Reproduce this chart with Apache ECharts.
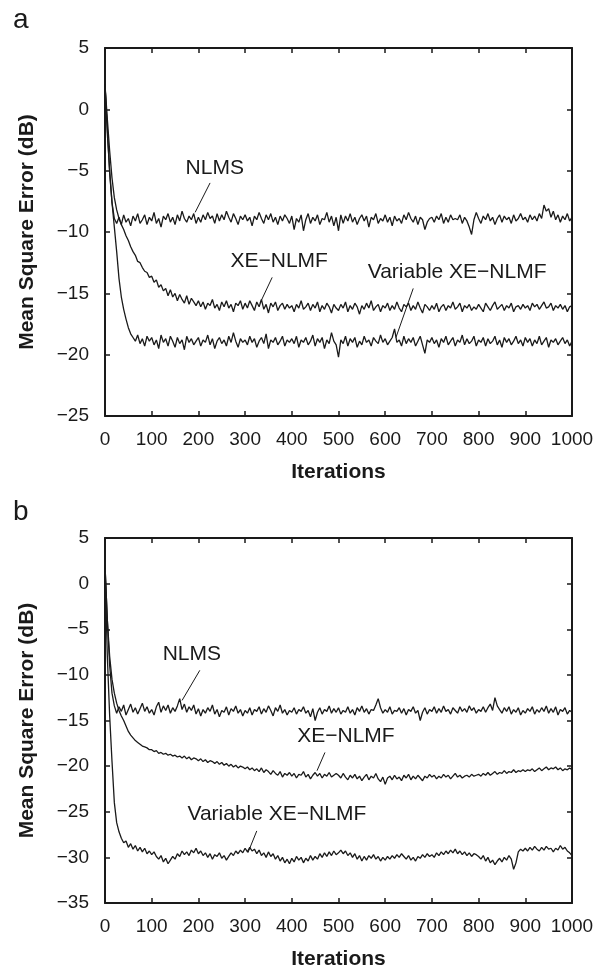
<!DOCTYPE html>
<html>
<head>
<meta charset="utf-8">
<script src="https://cdn.jsdelivr.net/npm/echarts@6/dist/echarts.min.js"></script>
<style>
  html, body { margin: 0; padding: 0; background: #fff; }
  #chart { width: 598px; height: 971px; }
</style>
</head>
<body>
<div id="chart"></div>
<script>
// iteration axis, one point every 5 iterations (0..1000)
const iterations = [];
for (let i = 0; i <= 1000; i += 5) iterations.push(i);

const xTicks = [0, 100, 200, 300, 400, 500, 600, 700, 800, 900, 1000];
const yTicksA = [-25, -20, -15, -10, -5, 0, 5];
const yTicksB = [-35, -30, -25, -20, -15, -10, -5, 0, 5];

// panel a
const nlmsA = [
  2.0, -1.5, -5.2, -7.6, -8.9, -9.3, -8.8, -9.4, -8.6, -9.2, -8.9, -9.5, -8.7, -9.1, -8.5, -9.3, -9.0, -8.6, -9.4, -8.8,
  -9.1, -8.4, -9.3, -8.9, -9.6, -8.7, -9.0, -8.5, -9.2, -8.8, -9.4, -8.6, -9.1, -8.3, -8.9, -9.2, -8.7, -9.0, -8.5, -9.3,
  -8.8, -9.2, -8.6, -9.0, -8.4, -8.9, -8.7, -9.3, -8.5, -9.1, -8.6, -9.0, -8.3, -8.8, -9.2, -8.5, -8.9, -9.4, -8.7, -9.0,
  -8.6, -9.1, -8.8, -9.5, -8.7, -9.0, -8.4, -8.9, -9.3, -8.6, -9.0, -8.5, -9.2, -8.8, -9.4, -8.7, -9.1, -8.6, -8.9, -9.3,
  -8.7, -9.8, -8.9, -9.2, -8.6, -9.9, -9.0, -8.5, -9.3, -8.8, -9.1, -8.6, -9.4, -8.9, -9.0, -8.4, -9.2, -8.7, -9.5, -8.8,
  -9.9, -8.6, -9.3, -8.7, -9.1, -8.5, -9.2, -8.8, -9.4, -8.9, -8.6, -9.1, -8.7, -9.6, -8.8, -9.0, -8.5, -9.3, -8.9, -9.1,
  -8.6, -9.2, -8.8, -9.5, -8.7, -9.1, -8.9, -9.3, -8.6, -9.0, -8.4, -8.9, -9.2, -8.7, -9.4, -8.8, -9.0, -9.8, -9.2, -8.9,
  -8.8, -9.2, -8.7, -9.0, -8.5, -9.3, -8.8, -9.2, -8.6, -9.0, -8.9, -9.0, -8.6, -9.3, -8.8, -9.1, -9.6, -10.2, -9.0, -8.4,
  -8.9, -9.3, -8.7, -9.0, -8.5, -9.1, -8.8, -9.4, -8.9, -8.6, -9.2, -8.7, -9.0, -8.8, -9.3, -8.6, -9.1, -8.9, -8.5, -9.0,
  -8.8, -9.2, -8.6, -9.0, -8.7, -9.1, -8.5, -8.9, -7.8, -8.3, -8.1, -8.8, -8.3, -9.0, -8.6, -9.2, -8.7, -9.0, -8.5, -9.1, -8.8
];
const xeA = [
  2.0, -0.8, -3.4, -5.6, -7.2, -8.2, -8.9, -9.4, -9.8, -10.3, -10.7, -11.2, -11.6, -11.9, -12.4, -12.5, -12.9, -13.2, -13.3, -13.7,
  -13.6, -14.1, -13.9, -14.5, -14.3, -14.8, -14.6, -15.2, -14.7, -15.3, -15.0, -15.6, -15.1, -15.5, -15.8, -15.2, -15.9, -15.4, -15.7, -16.0,
  -15.6, -16.1, -15.7, -16.3, -15.8, -16.0, -15.5, -16.2, -15.9, -16.4, -15.7, -16.1, -15.6, -16.2, -15.9, -16.5, -15.8, -16.0, -15.6, -16.3,
  -15.8, -16.2, -15.6, -16.0, -16.4, -15.7, -16.1, -15.5, -16.3, -15.9, -16.6, -15.8, -16.1, -15.7, -16.4, -16.0, -15.8, -16.3, -15.9, -16.2,
  -16.0, -16.5, -15.9, -16.2, -15.6, -16.3, -16.1, -15.8, -16.4, -15.9, -16.2, -15.7, -16.5, -16.0, -16.3, -15.8, -16.1, -16.6, -15.9, -16.2,
  -16.4, -15.9, -16.2, -15.7, -16.5, -16.0, -16.3, -15.8, -16.1, -16.7, -16.0, -16.3, -15.8, -16.2, -15.6, -16.4, -16.1, -15.9, -16.5, -16.0,
  -16.2, -15.8, -16.4, -16.0, -16.3, -15.7, -16.2, -16.5, -15.9, -16.1, -15.8, -16.4, -16.0, -16.3, -15.7, -16.2, -16.6, -15.9, -16.1, -16.4,
  -16.0, -16.3, -15.8, -16.5, -16.1, -15.9, -16.4, -16.0, -16.2, -15.7, -16.3, -16.1, -15.8, -16.5, -16.0, -16.2, -15.9, -16.4, -16.1, -16.3,
  -15.9, -16.2, -16.5, -15.8, -16.1, -16.4, -16.0, -15.7, -16.3, -16.1, -15.9, -16.4, -16.0, -16.2, -15.8, -16.5, -16.1, -16.0, -16.3, -15.9,
  -16.2, -16.0, -16.4, -15.8, -16.1, -15.9, -16.3, -16.0, -15.7, -16.2, -16.1, -15.8, -16.4, -16.0, -16.2, -15.9, -16.3, -16.0, -16.5, -16.1, -16.0
];
const varA = [
  2.0, -2.0, -5.0, -7.6, -9.6, -11.6, -13.8, -15.3, -16.3, -17.1, -17.8, -18.3, -18.6, -18.9, -18.4, -19.1, -18.7, -19.3, -18.5, -18.9,
  -18.6, -19.2, -18.8, -19.5, -18.4, -19.0, -18.7, -19.3, -18.5, -18.9, -19.4, -18.6, -19.1, -18.8, -19.6, -18.5, -19.0, -18.7, -19.2, -18.9,
  -18.6, -19.3, -18.8, -19.0, -18.4, -19.2, -18.7, -19.5, -18.9, -18.6, -19.1, -18.8, -19.3, -18.5, -19.0, -18.2, -18.9, -19.4, -18.7, -19.0,
  -18.8, -19.2, -18.5, -19.0, -18.7, -19.4, -18.9, -18.6, -19.1, -18.3, -19.5, -18.8, -19.0, -18.6, -19.2, -18.9, -18.5, -19.3, -18.8, -19.0,
  -18.7, -19.1, -18.5, -19.4, -18.8, -19.0, -18.6, -19.2, -18.9, -18.4, -19.3, -18.7, -19.0, -18.6, -19.5, -18.8, -19.1, -18.2, -18.9, -19.2,
  -20.2, -18.8, -19.1, -18.5, -19.3, -18.7, -19.0, -18.6, -19.4, -18.9, -19.2, -18.5, -19.0, -18.8, -19.3, -18.6, -18.9, -19.1, -18.4, -19.0,
  -18.7, -19.2, -18.9, -18.6, -17.9, -19.0, -18.8, -19.3, -18.5, -19.1, -18.7, -19.0, -18.6, -19.3, -18.9, -18.5, -19.2, -19.9, -18.8, -19.0,
  -18.6, -19.1, -18.8, -19.4, -18.7, -19.0, -18.5, -19.2, -18.9, -18.6, -19.3, -18.8, -19.0, -18.4, -19.2, -18.7, -19.1, -18.9, -18.5, -19.3,
  -18.8, -19.0, -18.6, -19.3, -18.7, -19.1, -18.9, -18.5, -19.2, -18.8, -19.4, -18.6, -19.0, -18.7, -19.2, -18.9, -18.5, -19.1, -18.8, -19.3,
  -18.6, -19.0, -18.7, -19.3, -18.8, -19.1, -18.5, -19.2, -18.9, -18.6, -19.4, -18.8, -19.0, -18.7, -19.2, -18.9, -18.6, -19.1, -18.8, -19.3, -18.9
];

// panel b
const nlmsB = [
  2.0, -4.0, -9.0, -12.0, -13.4, -14.2, -13.5, -14.0, -13.3, -14.4, -13.8, -13.2, -14.1, -13.6, -14.3, -13.7, -13.1, -14.0, -13.5, -14.2,
  -13.8, -14.4, -13.5, -13.0, -14.1, -13.4, -13.9, -13.3, -14.2, -13.6, -14.0, -13.4, -12.6, -13.8, -13.2, -14.1, -13.5, -13.9, -13.3, -14.3,
  -13.7, -14.5, -13.8, -14.2, -13.6, -14.0, -13.3, -14.3, -13.8, -14.6, -13.9, -14.1, -13.5, -14.4, -13.7, -14.0, -13.4, -14.2, -13.8, -14.5,
  -13.9, -14.2, -13.6, -14.4, -13.8, -14.0, -13.5, -14.3, -13.7, -14.1, -13.4, -13.9, -14.5, -13.6, -14.0, -13.3, -14.2, -13.8, -14.4, -13.9,
  -14.1, -13.6, -14.3, -13.8, -14.0, -13.5, -14.2, -13.9, -14.6, -13.7, -15.0, -14.1, -13.6, -14.3, -13.8, -14.0, -13.4, -14.2, -13.7, -14.1,
  -13.6, -14.3, -13.9, -14.1, -13.5, -14.2, -13.8, -14.4, -13.6, -14.0, -13.4, -14.1, -13.7, -14.3, -13.8, -13.9, -13.3, -12.6, -13.6, -14.2,
  -13.8, -14.1, -13.5, -14.3, -13.9, -14.0, -13.6, -14.2, -13.7, -14.4, -13.8, -14.0, -13.5, -14.2, -13.9, -15.0, -14.1, -13.6, -14.3, -13.8,
  -14.0, -13.5, -14.2, -13.7, -14.1, -13.4, -14.0, -13.8, -14.3, -13.6, -13.9, -14.2, -13.5, -14.0, -13.7, -14.1, -13.4, -13.9, -13.6, -14.2,
  -13.8, -14.0, -13.5, -14.1, -13.6, -13.2, -13.9, -12.5, -13.4, -13.8, -14.2, -13.6, -14.0, -13.5, -14.3, -13.8, -14.1, -13.6, -14.4, -13.9,
  -14.2, -13.7, -14.0, -13.5, -14.3, -13.8, -14.1, -13.6, -14.0, -13.4, -14.2, -13.7, -14.1, -13.5, -14.4, -13.8, -14.0, -13.6, -14.3, -13.9, -14.1
];
const xeB = [
  2.0, -4.0, -8.0, -10.5, -12.0, -13.1, -13.9, -14.5, -15.0, -15.6, -16.2, -16.6, -16.9, -17.2, -17.4, -17.6, -17.8, -17.9, -18.0, -18.2,
  -18.2, -18.4, -18.3, -18.6, -18.5, -18.7, -18.6, -18.8, -18.7, -18.9, -18.8, -19.0, -18.9, -19.1, -18.9, -19.2, -19.0, -19.3, -19.1, -19.2,
  -19.4, -19.2, -19.5, -19.3, -19.6, -19.4, -19.5, -19.7, -19.5, -19.8, -19.6, -19.9, -19.7, -20.0, -19.8, -20.1, -19.9, -20.2, -20.0, -20.1,
  -20.3, -20.1, -20.4, -20.2, -20.5, -20.3, -20.6, -20.2, -20.7, -20.4, -20.6, -20.9, -20.5, -20.8, -21.0, -20.6, -21.2, -20.8, -21.0, -20.7,
  -21.1, -20.8, -21.3, -20.9, -21.0, -20.6, -21.2, -20.9, -21.4, -21.0, -20.7, -21.1, -20.8, -21.3, -20.9, -21.1, -20.7, -21.2, -21.0, -20.8,
  -21.0, -21.3, -20.8, -21.2, -21.5, -21.0, -21.3, -20.9, -21.4, -21.1, -21.6, -21.2, -20.9, -21.5, -21.1, -21.3, -20.8, -21.4, -21.7, -21.2,
  -22.0, -21.3, -21.1, -21.5, -21.0, -21.4, -21.2, -21.6, -21.0, -21.3, -20.9, -21.5, -21.1, -21.4, -21.0, -21.3, -21.6, -21.1, -21.3, -20.9,
  -21.2, -21.0, -21.4, -21.1, -21.3, -20.9, -21.2, -21.0, -21.4, -21.1, -20.8, -21.2, -21.0, -21.3, -21.1, -21.0, -21.2, -20.9, -21.1, -21.0,
  -20.9, -21.1, -20.8, -21.0, -20.7, -21.0, -20.8, -20.6, -20.9, -20.7, -20.8, -20.5, -20.8, -20.6, -20.7, -20.4, -20.7, -20.5, -20.6, -20.4,
  -20.6, -20.4, -20.5, -20.3, -20.6, -20.4, -20.2, -20.5, -20.3, -20.1, -20.4, -20.2, -20.3, -20.1, -20.4, -20.2, -20.5, -20.3, -20.4, -20.2, -20.4
];
const varB = [
  2.0, -8.0, -14.5, -19.5, -24.0, -26.2, -27.2, -27.9, -28.4, -28.2, -28.9, -28.5, -29.1, -28.7, -29.3, -28.9, -29.4, -29.0, -29.6, -29.3,
  -29.7, -29.4, -29.9, -30.2, -29.8, -30.5, -30.1, -30.7, -30.3, -29.9, -30.2, -29.6, -29.9, -29.3, -29.7, -29.4, -29.8, -29.2, -29.5, -29.0,
  -29.6, -29.3, -29.8, -29.5, -30.0, -29.6, -30.2, -29.7, -29.9, -29.5, -30.1, -29.8, -30.3, -29.9, -29.5, -29.8, -29.3, -29.6, -29.2, -29.5,
  -29.0, -29.4, -28.9, -29.3, -29.1, -29.6, -29.2, -29.8, -29.5, -30.0, -29.4, -29.9, -29.6, -30.2, -29.8, -30.4, -30.0, -30.6, -30.2, -30.7,
  -30.1, -30.5, -29.9, -30.3, -30.0, -30.6, -30.1, -30.4, -29.8, -30.3, -29.9, -30.2, -29.6, -30.0, -29.5, -29.9, -29.4, -29.8, -29.3, -29.7,
  -29.5, -29.2, -29.6, -29.3, -29.8, -29.5, -30.0, -29.6, -30.2, -29.8, -30.4, -29.9, -30.3, -29.8, -30.1, -29.7, -30.2, -29.9, -30.4, -30.0,
  -30.3, -29.9, -30.2, -29.8, -30.1, -29.7, -30.0, -29.6, -29.9, -30.2, -29.8, -30.3, -30.0, -30.4, -29.9, -30.1, -29.7, -30.0, -29.6, -29.9,
  -29.7, -30.0, -29.5, -29.8, -29.4, -29.7, -29.3, -29.6, -29.2, -29.5, -29.1, -29.6, -29.3, -29.7, -29.4, -29.8, -29.5, -29.9, -29.6, -29.7,
  -29.9, -30.2, -29.8, -30.4, -30.0, -30.6, -30.3, -30.8, -30.4, -30.1, -30.5, -30.0, -30.3, -29.8, -30.2, -31.3, -30.6, -29.4, -29.1, -29.3,
  -29.0, -29.3, -28.9, -29.2, -28.8, -29.1, -29.3, -28.9, -29.2, -28.8, -29.1, -29.0, -29.4, -29.0, -29.2, -28.7, -29.1, -28.9, -29.3, -29.5, -29.8
];

// annotation text + pointer, in data coords: [text, tx, ty, x1, y1, x2, y2]
const notesA = [
  ['NLMS', 235, -4.8, 225, -6.0, 193, -8.4],
  ['XE\u2212NLMF', 373, -12.4, 358, -13.7, 332, -15.8],
  ['Variable XE\u2212NLMF', 754, -13.3, 660, -14.6, 623, -18.6]
];
const notesB = [
  ['NLMS', 186, -7.7, 203, -9.5, 165, -12.8],
  ['XE\u2212NLMF', 516, -16.7, 471, -18.5, 454, -20.5],
  ['Variable XE\u2212NLMF', 368, -25.3, 325, -27.1, 306, -29.5]
];

const FONT = '"Liberation Sans", Arial, sans-serif';
const INK = '#1a1a1a';

const chart = echarts.init(document.getElementById('chart'));

function axisBase(extra) {
  return Object.assign({
    type: 'value',
    axisLine: { show: true, onZero: false, lineStyle: { color: INK, width: 2 } },
    axisTick: { show: true, inside: true, length: 5, lineStyle: { color: INK, width: 1.5 } },
    splitLine: { show: false },
    axisLabel: { show: false }
  }, extra);
}
const minus = v => String(v).replace('-', '\u2212');
const tickLabel = { show: true, fontFamily: FONT, fontSize: 19, color: INK };
const titleStyle = { fontFamily: FONT, fontSize: 21, fontWeight: 'bold', color: INK };

function xPair(gi) {
  return [
    axisBase({ gridIndex: gi, position: 'bottom', min: xTicks[0], max: xTicks[xTicks.length - 1], interval: 100,
      axisLabel: Object.assign({ margin: 14, formatter: v => String(v) }, tickLabel),
      name: 'Iterations', nameLocation: 'middle', nameGap: 46, nameTextStyle: titleStyle }),
    axisBase({ gridIndex: gi, position: 'top', min: xTicks[0], max: xTicks[xTicks.length - 1], interval: 100 })
  ];
}
function yPair(gi, ticks) {
  const lo = ticks[0], hi = ticks[ticks.length - 1];
  return [
    axisBase({ gridIndex: gi, position: 'left', min: lo, max: hi, interval: 5,
      axisLabel: Object.assign({ margin: 16, formatter: minus }, tickLabel),
      name: 'Mean Square Error (dB)', nameLocation: 'middle', nameGap: 67, nameTextStyle: titleStyle }),
    axisBase({ gridIndex: gi, position: 'right', min: lo, max: hi, interval: 5 })
  ];
}
function line(arr, gi) {
  return {
    type: 'line', xAxisIndex: gi * 2, yAxisIndex: gi * 2,
    data: iterations.map((x, i) => [x, arr[i]]),
    showSymbol: false, silent: true,
    lineStyle: { color: INK, width: 1.3 }
  };
}

chart.setOption({
  animation: false,
  backgroundColor: '#fff',
  grid: [
    { left: 105, right: 26, top: 48, height: 368 },
    { left: 105, right: 26, top: 538, height: 368 }
  ],
  xAxis: [...xPair(0), ...xPair(1)],
  yAxis: [...yPair(0, yTicksA), ...yPair(1, yTicksB)],
  series: [
    line(nlmsA, 0), line(xeA, 0), line(varA, 0),
    line(nlmsB, 1), line(xeB, 1), line(varB, 1)
  ]
});

// annotations placed through the axes
function notes(list, gi) {
  const out = [];
  const finder = { xAxisIndex: gi * 2, yAxisIndex: gi * 2 };
  list.forEach(n => {
    const t = chart.convertToPixel(finder, [n[1], n[2]]);
    const p1 = chart.convertToPixel(finder, [n[3], n[4]]);
    const p2 = chart.convertToPixel(finder, [n[5], n[6]]);
    out.push({ type: 'text', x: t[0], y: t[1], silent: true,
      style: { text: n[0], font: '21px ' + FONT, fill: INK, align: 'center', verticalAlign: 'middle' } });
    out.push({ type: 'line', silent: true,
      shape: { x1: p1[0], y1: p1[1], x2: p2[0], y2: p2[1] },
      style: { stroke: INK, lineWidth: 1 } });
  });
  return out;
}
chart.setOption({
  graphic: [
    { type: 'text', x: 13, y: 20, style: { text: 'a', font: '28px ' + FONT, fill: INK, verticalAlign: 'middle' } },
    { type: 'text', x: 13, y: 512, style: { text: 'b', font: '28px ' + FONT, fill: INK, verticalAlign: 'middle' } },
    ...notes(notesA, 0),
    ...notes(notesB, 1)
  ]
});
</script>
</body>
</html>
